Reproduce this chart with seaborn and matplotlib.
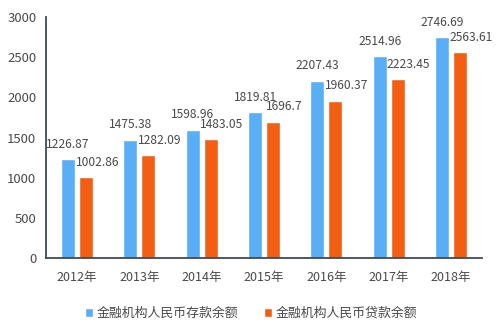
import matplotlib
matplotlib.use("Agg")
import matplotlib.pyplot as plt
import seaborn as sns
import pandas as pd

years = ["2012年", "2013年", "2014年", "2015年", "2016年", "2017年", "2018年"]
deposits = [1226.87, 1475.38, 1598.96, 1819.81, 2207.43, 2514.96, 2746.69]
loans = [1002.86, 1282.09, 1483.05, 1696.7, 1960.37, 2223.45, 2563.61]
series_names = ["金融机构人民币存款余额", "金融机构人民币贷款余额"]
colors = ["#5AAEF6", "#F45E13"]
text_color = "#4a4a4a"

sns.set_style("white")
plt.rcParams["font.family"] = ["Noto Sans CJK SC", "DejaVu Sans"]

df = pd.DataFrame({
    "year": years * 2,
    "value": deposits + loans,
    "series": [series_names[0]] * len(years) + [series_names[1]] * len(years),
})

fig = plt.figure(figsize=(4.98, 3.31), dpi=100)
ax = fig.add_axes([0.0924, 0.2205, 0.8756, 0.728])

sns.barplot(data=df, x="year", y="value", hue="series", palette=colors,
            width=0.577, gap=0.22, saturation=1, ax=ax, legend=True)

ax.set_ylim(0, 3000)
ax.set_xlim(-0.5, len(years) - 0.5)
ax.set_yticks(range(0, 3001, 500))
ax.set_xlabel("")
ax.set_ylabel("")
ax.tick_params(axis="both", length=0, colors=text_color)
ax.tick_params(axis="y", pad=7, labelsize=9.5)
ax.tick_params(axis="x", pad=9, labelsize=9)

for side in ["top", "right"]:
    ax.spines[side].set_visible(False)
for side in ["left", "bottom"]:
    ax.spines[side].set_color("#3f4a52")
    ax.spines[side].set_linewidth(1.3)

# value labels: deposit labels centered over the bar, loan labels nudged right
for cont, vals, dx in zip(ax.containers, [deposits, loans], [0, 8]):
    for rect, v in zip(cont, vals):
        x = rect.get_x() + rect.get_width() / 2
        ax.annotate(f"{v:g}", (x, v), xytext=(dx, 6), textcoords="offset points",
                    ha="center", va="bottom", fontsize=8.7, color=text_color)

handles, labels = ax.get_legend_handles_labels()
ax.legend(handles, labels, loc="upper center", bbox_to_anchor=(0.47, -0.155),
          ncol=2, frameon=False, fontsize=9.3, handlelength=0.6, handleheight=0.6,
          handletextpad=0.3, columnspacing=2.0, labelcolor=text_color)

fig.savefig("out.png", dpi=100)
